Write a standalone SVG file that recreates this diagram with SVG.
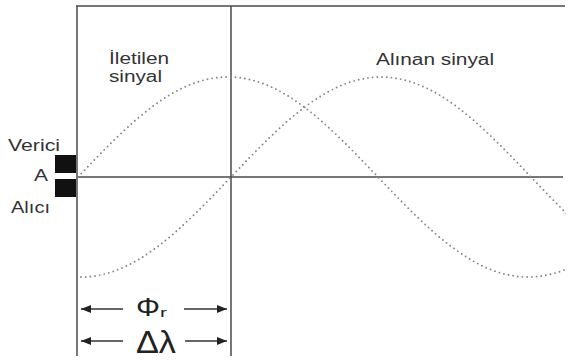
<svg xmlns="http://www.w3.org/2000/svg" width="570" height="360" viewBox="0 0 570 360">
  <style>
    .ln { stroke: #4a4a4a; stroke-width: 1.5; fill: none; }
    .dot { stroke: #858585; stroke-width: 1.9; fill: none; stroke-dasharray: 0 4.7; stroke-linecap: round; }
    .t { font-family: "Liberation Sans", Arial, sans-serif; font-size: 16px; fill: #333; }
    .m { font-family: "Liberation Sans", Arial, sans-serif; fill: #222; }
    .arr { stroke: #333; stroke-width: 1.3; fill: none; marker-end: url(#ah); }
  </style>
  <defs>
    <marker id="ah" viewBox="0 0 10 8" refX="10" refY="4" markerWidth="10" markerHeight="8" markerUnits="userSpaceOnUse" orient="auto">
      <path d="M0,0 L10,4 L0,8 Z" fill="#222"/>
    </marker>
    <clipPath id="clip">
      <rect x="76" y="0" width="490" height="360"/>
    </clipPath>
  </defs>
  <rect width="570" height="360" fill="#fff"/>

  <g id="frame">
    <line class="ln" x1="76" y1="6" x2="565" y2="6"/>
    <line class="ln" x1="77" y1="6" x2="77" y2="356"/>
    <line class="ln" x1="231" y1="6" x2="231" y2="356"/>
    <line class="ln" x1="77" y1="177" x2="563" y2="177"/>
  </g>

  <g id="signals" clip-path="url(#clip)">
    <path id="iletilen-curve" class="dot" d="M78,177 c50.1,-52.5 95.8,-100 150,-100 c54.2,0 99.9,47.5 150,100 c50.1,52.5 95.8,100 150,100 c54.2,0 99.9,-47.5 150,-100"/>
    <path id="alinan-curve" class="dot" d="M81,277 c54.2,0 99.9,-47.5 150,-100 c50.1,-52.5 95.8,-100 150,-100 c54.2,0 99.9,47.5 150,100 c50.1,52.5 95.8,100 150,100"/>
  </g>

  <g id="antenna">
    <rect x="55" y="155" width="21" height="18" fill="#111"/>
    <rect x="55" y="179" width="21" height="18" fill="#111"/>
  </g>

  <g id="labels">
    <text class="t" x="8" y="151" textLength="52" lengthAdjust="spacingAndGlyphs">Verici</text>
    <text class="t" x="34" y="181" textLength="14" lengthAdjust="spacingAndGlyphs">A</text>
    <text class="t" x="11" y="213" textLength="39" lengthAdjust="spacingAndGlyphs">Alıcı</text>
    <text class="t" x="109" y="64" textLength="60" lengthAdjust="spacingAndGlyphs">İletilen</text>
    <text class="t" x="109" y="82" textLength="53" lengthAdjust="spacingAndGlyphs">sinyal</text>
    <text class="t" x="376" y="65" textLength="118" lengthAdjust="spacingAndGlyphs">Alınan sinyal</text>
  </g>

  <g id="connectors">
    <line class="arr" x1="123" y1="309" x2="81" y2="309"/>
    <line class="arr" x1="184" y1="309" x2="227" y2="309"/>
    <line class="arr" x1="123" y1="341" x2="81" y2="341"/>
    <line class="arr" x1="185" y1="341" x2="227" y2="341"/>
  </g>

  <g id="measures">
    <text class="m" x="136" y="316" font-size="25" textLength="24" lengthAdjust="spacingAndGlyphs">Φ</text>
    <text class="m" x="160" y="317" font-size="13" textLength="7" lengthAdjust="spacingAndGlyphs">r</text>
    <text class="m" x="136" y="353" font-size="31" textLength="40" lengthAdjust="spacingAndGlyphs">Δλ</text>
  </g>
</svg>
